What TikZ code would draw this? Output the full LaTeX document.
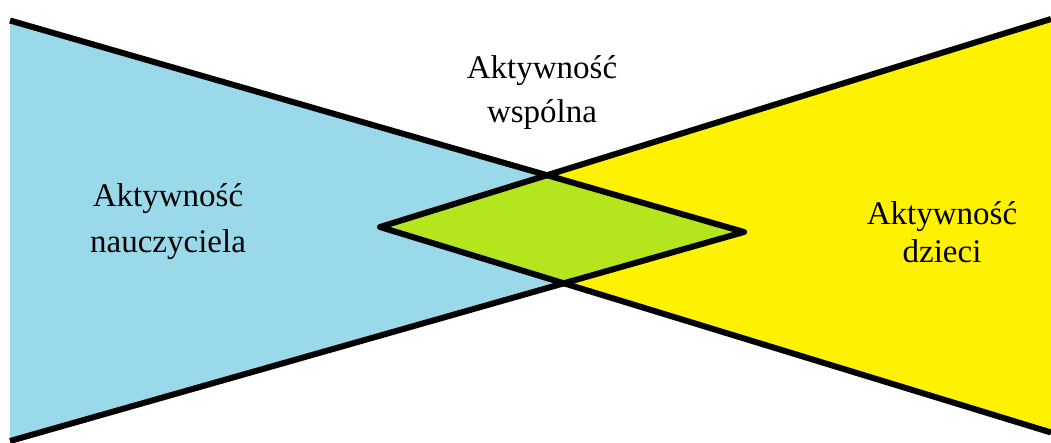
\documentclass[tikz,border=0pt]{standalone}
\usepackage{fontspec}
\setmainfont{Liberation Serif}
\definecolor{lblue}{RGB}{153,217,234}
\definecolor{lyellow}{RGB}{255,242,0}
\definecolor{lgreen}{RGB}{181,230,29}
\tikzset{
  edge/.style={line width=6pt, line join=round, line cap=butt, black},
  lbl/.style={anchor=base, inner sep=0pt, font=\fontsize{33}{40}\selectfont}
}
\begin{document}
\begin{tikzpicture}[x=1pt,y=1pt]
\useasboundingbox (0,0) rectangle (1051,443);
\coordinate (L1) at (10,422.5);
\coordinate (L2) at (10,2);
\coordinate (Rt) at (744,211);
\coordinate (R1) at (1051,424);
\coordinate (R2) at (1051,10.5);
\coordinate (Lt) at (380,216);
\fill[lblue] (L1) -- (Rt) -- (L2) -- cycle;
\fill[lyellow] (R1) -- (Lt) -- (R2) -- cycle;
\begin{scope}
  \clip (L1) -- (Rt) -- (L2) -- cycle;
  \fill[lgreen] (R1) -- (Lt) -- (R2) -- cycle;
\end{scope}
\draw[edge] (L1) -- (Rt) -- (L2);
\draw[edge] (R1) -- (Lt) -- (R2);
\node[lbl] (w1) at (542,364) {Aktywność};
\node[lbl] (w2) at (542,320) {wspólna};
\node[lbl] (n1) at (168,236) {Aktywność};
\node[lbl] (n2) at (168,190) {nauczyciela};
\node[lbl] (d1) at (942,218) {Aktywność};
\node[lbl] (d2) at (942,180) {dzieci};
\end{tikzpicture}
\end{document}
